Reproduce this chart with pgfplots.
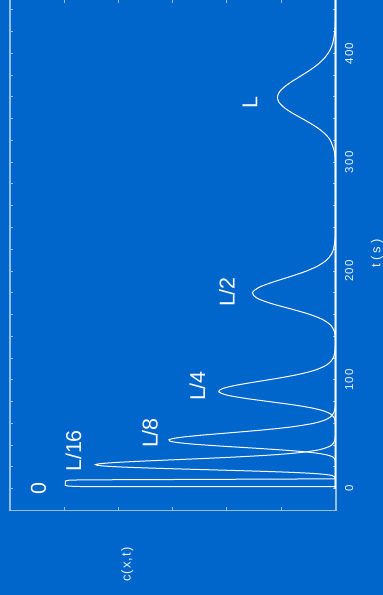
\documentclass[border=0pt]{standalone}
\usepackage{fontspec}
\setmainfont{Liberation Sans}
\usepackage{pgfplots}
\pgfplotsset{compat=1.18}
\definecolor{bg}{RGB}{0,102,204}
\definecolor{framec}{RGB}{150,190,235}
\definecolor{labc}{RGB}{235,242,252}
\newcommand{\tickfont}{\fontsize{11.5}{12}\selectfont}
\newcommand{\labfont}{\fontsize{13}{14}\selectfont}
\newcommand{\bigfont}{\fontsize{21.5}{22}\selectfont}
\begin{document}
\begin{tikzpicture}
\fill[bg] (-10pt,-84.6pt) rectangle (373pt,510.4pt);
\begin{scope}
\clip (-10pt,-84.6pt) rectangle (373pt,510.4pt);
\begin{axis}[
  at={(0pt,0pt)}, anchor=south west,
  scale only axis, width=326pt, height=511.4pt,
  x dir=reverse, xmin=-0.01, xmax=6, ymin=-20, ymax=450,
  xtick={1,2,3,4,5}, xticklabels={},
  ytick={0,100,200,300,400},
  yticklabels={{\mbox{0}},{\mbox{1\kern1.2pt 0\kern1.2pt 0}},{\mbox{2\kern1.2pt 0\kern1.2pt 0}},{\mbox{3\kern1.2pt 0\kern1.2pt 0}},{\mbox{4\kern1.2pt 0\kern1.2pt 0}}},
  minor ytick={20,40,...,440},
  yticklabel pos=right, xtick pos=both, ytick pos=both,
  tick align=inside, major tick length=3.5pt, minor tick length=3.5pt,
  axis line style={framec, line width=1.2pt},
  tick style={framec, line width=1pt},
  yticklabel style={rotate=90, anchor=north, inner sep=0pt, outer sep=9pt, font=\tickfont, text=labc},
  axis background/.style={fill=bg},
]
% pulse at x=0
\addplot[white, line width=1pt] coordinates {
(0,0) (0,1.8) (4.70,1.95) (4.92,2.3) (4.98,3.0) (4.98,7.0) (4.92,7.7) (4.70,8.05) (0,9.0) (0,450)};
% L/16
\addplot[white, line width=1pt, smooth] coordinates {
(0,0) (0,4) (0,8) (0.0027,10) (0.061,12) (0.180,13) (0.4225,14) (0.8267,15) (1.394,16) (2.079,17) (2.803,18) (3.469,19) (3.993,20) (4.316,21) (4.424,22) (4.328,23) (4.065,24) (3.685,25) (3.234,26) (2.761,27) (2.298,28) (1.871,29) (1.492,30) (1.169,31) (0.901,32) (0.684,33) (0.512,34) (0.277,36) (0.102,39) (0.0348,42) (0.0076,46) (0.0007,52) (0,60) (0,80) (0,120) (0,200) (0,300) (0,400) (0,450)};
% L/8
\addplot[white, line width=1pt, smooth] coordinates {
(0,0) (0,8) (0,16) (0.00043,24) (0.0098,27) (0.0463,29) (0.1567,31) (0.4045,33) (0.8345,35) (1.426,37) (2.078,39) (2.647,41) (2.998,43) (3.07,45) (2.877,47) (2.498,49) (2.026,51) (1.546,53) (1.119,55) (0.772,57) (0.408,60) (0.198,63) (0.0898,66) (0.0284,70) (0.0059,75) (0.0011,80) (0,88) (0,100) (0,150) (0,250) (0,350) (0,450)};
% L/4
\addplot[white, line width=1pt, smooth] coordinates {
(0,0) (0,20) (0,40) (0.00004,55) (0.00146,60) (0.0207,65) (0.0704,68) (0.1905,71) (0.4204,74) (0.776,77) (1.221,80) (1.666,83) (2.004,86) (2.151,89) (2.081,92) (1.834,95) (1.486,98) (1.115,101) (0.7796,104) (0.511,107) (0.3157,110) (0.1529,114) (0.0678,118) (0.0278,122) (0.0106,126) (0.0023,132) (0.0002,140) (0,150) (0,180) (0,250) (0,350) (0,450)};
% L/2
\addplot[white, line width=1pt, smooth] coordinates {
(0,0) (0,50) (0,100) (0.0001,130) (0.0057,140) (0.0250,145) (0.0834,150) (0.2197,155) (0.465,160) (0.808,165) (1.173,170) (1.445,175) (1.53,180) (1.410,185) (1.144,190) (0.826,195) (0.534,200) (0.312,205) (0.166,210) (0.0811,215) (0.0365,220) (0.0059,230) (0.0007,240) (0.0001,250) (0,265) (0,300) (0,350) (0,400) (0,450)};
% L
\addplot[white, line width=1pt, smooth] coordinates {
(0,0) (0,100) (0,200) (0,250) (0,275) (0.0003,290) (0.0029,300) (0.0205,310) (0.0932,320) (0.1711,325) (0.2857,330) (0.4364,335) (0.611,340) (0.789,345) (0.941,350) (1.040,355) (1.07,360) (1.027,365) (0.922,370) (0.7767,375) (0.615,380) (0.4595,385) (0.324,390) (0.2167,395) (0.137,400) (0.0828,405) (0.0475,410) (0.0136,420) (0.0033,430) (0.0007,440) (0,450)};
\node[rotate=90, text=white, font=\bigfont, inner sep=0pt] at (axis cs:5.475,-0.33) {0};
\node[rotate=90, text=white, font=\bigfont, inner sep=0pt] at (axis cs:4.83,34.6) {L/16};
\node[rotate=90, text=white, font=\bigfont, inner sep=0pt] at (axis cs:3.419,51.1) {L/8};
\node[rotate=90, text=white, font=\bigfont, inner sep=0pt] at (axis cs:2.543,94.3) {L/4};
\node[rotate=90, text=white, font=\bigfont, inner sep=0pt] at (axis cs:2.0,180.7) {L/2};
\node[rotate=90, text=white, font=\bigfont, inner sep=0pt] at (axis cs:1.575,355.3) {L};
\end{axis}
\end{scope}
\node[rotate=90, text=labc, font=\labfont, inner sep=0pt] at (367pt,256.9pt) {t\kern3.5pt (\kern3pt s\kern3pt )};
\node[rotate=90, text=labc, font=\labfont, inner sep=0pt] at (117.2pt,-54.1pt) {c\kern1.2pt (\kern1.2pt x\kern1.2pt ,\kern1.2pt t\kern1.2pt )};
\pgfresetboundingbox
\useasboundingbox (-10pt,-84.6pt) rectangle (373pt,510.4pt);
\end{tikzpicture}
\end{document}
